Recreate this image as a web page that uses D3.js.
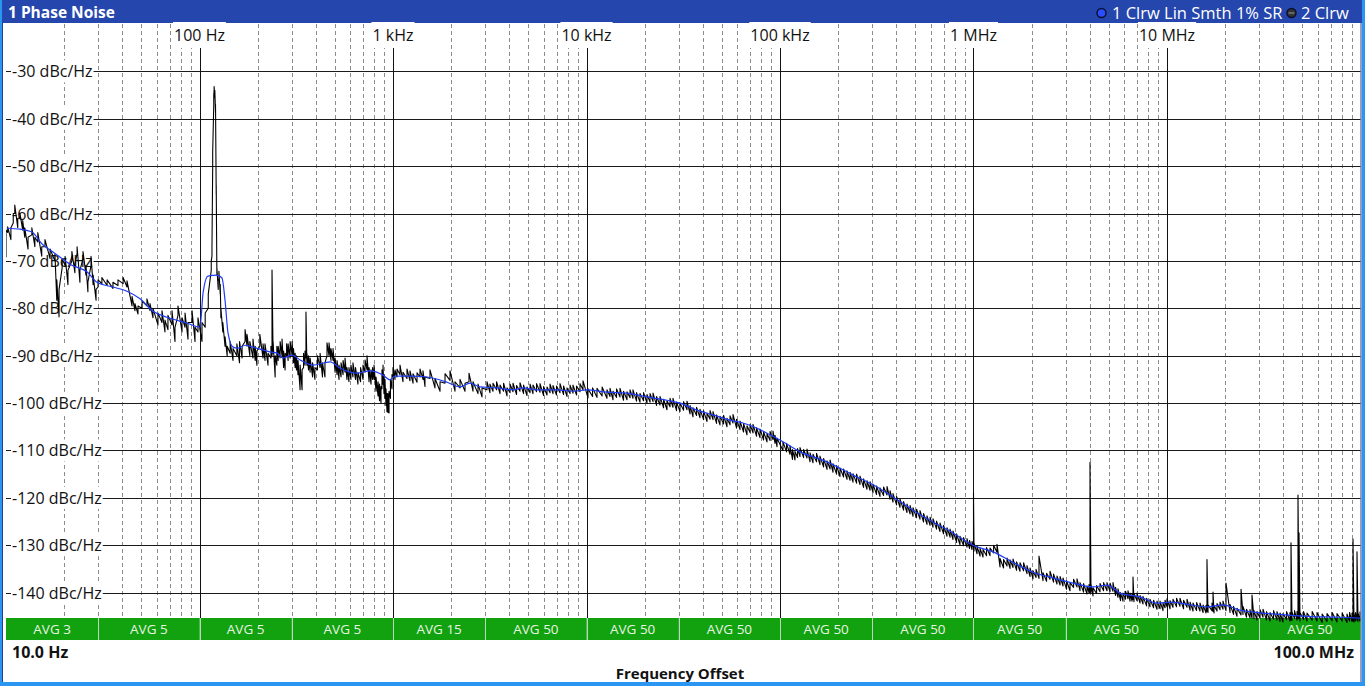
<!DOCTYPE html>
<html><head><meta charset="utf-8">
<script src="https://cdn.jsdelivr.net/npm/d3@7"></script>
<style>
html,body{margin:0;padding:0;background:#fff;}
svg{display:block;font-family:"Open Sans","Noto Sans",sans-serif;}
</style></head><body>
<svg id="chart" width="1365" height="686"></svg>
<script>
// Phase noise measurement: offset frequency (Hz) vs level (dBc/Hz)

const levelTicks = [-30, -40, -50, -60, -70, -80, -90, -100, -110, -120, -130, -140];
const levelTickLabels = ["-30 dBc/Hz", "-40 dBc/Hz", "-50 dBc/Hz", "-60 dBc/Hz", "-70 dBc/Hz", "-80 dBc/Hz",
  "-90 dBc/Hz", "-100 dBc/Hz", "-110 dBc/Hz", "-120 dBc/Hz", "-130 dBc/Hz", "-140 dBc/Hz"];
const decadeTicks = [100, 1e3, 1e4, 1e5, 1e6, 1e7];
const decadeTickLabels = ["100 Hz", "1 kHz", "10 kHz", "100 kHz", "1 MHz", "10 MHz"];
const spanStart = 10, spanStop = 1e8;
const spanStartLabel = "10.0 Hz", spanStopLabel = "100.0 MHz";
const levelTop = -20, levelBottom = -150;

// averaging per sub-range
const avgBounds = [10, 30, 100, 300, 1e3, 3e3, 1e4, 3e4, 1e5, 3e5, 1e6, 3e6, 1e7, 3e7, 1e8];
const avgLabels = ["AVG 3", "AVG 5", "AVG 5", "AVG 5", "AVG 15", "AVG 50", "AVG 50", "AVG 50",
  "AVG 50", "AVG 50", "AVG 50", "AVG 50", "AVG 50", "AVG 50"];

// Trace 1: Clrw, linear smoothing 1 %  [offset Hz, dBc/Hz]
const trace1 = [
  [10.1,-63.1],[11.8,-63.3],[13.6,-63.9],[15.5,-66.6],[17.5,-68.1],[21.9,-70.9],[26.2,-72.3],[29.5,-74.5],
  [35.7,-75.5],[42.2,-76.4],[49.3,-78.0],[57.5,-80.6],[67.9,-81.9],[86,-83.1],[100.6,-84.0],[104.3,-76.8],
  [110.6,-73.2],[123,-73.0],[130.7,-73.6],[135.5,-78.3],[140.4,-85.2],[149,-88.2],[158,-88.4],[172,-87.8],
  [189,-88.2],[213,-88.8],[231,-89.2],[251,-89.4],[270,-90.5],[301,-89.9],[331,-90.9],[386,-92.0],
  [473,-91.3],[532,-92.6],[652,-93.7],[761,-93.2],[888,-94.1],[965,-95.1],[1024,-94.3],[1224,-94.3],
  [1499,-94.5],[1901,-95.6],[2220,-96.6],[2500,-95.8],[2815,-96.6],[3447,-96.8],[4172,-97.2],[4697,-96.8],
  [5549,-97.2],[7040,-97.2],[8516,-97.5],[10060,-97.2],[12760,-97.7],[16190,-97.9],[20550,-98.7],[26060,-99.4],
  [30420,-100.0],[37250,-101.5],[45060,-102.5],[55150,-103.6],[64400,-104.2],[76050,-105.3],[88800,-106.7],
  [100000,-107.8],[126900,-110.3],[175000,-112.4],[238400,-115.2],[317200,-117.7],[383800,-119.8],
  [486900,-122.6],[617700,-125.1],[783700,-127.4],[994000,-130.0],[1261000,-131.4],[1600000,-133.6],
  [2030000,-135.7],[2576000,-136.9],[3268000,-138.0],[4146000,-138.8],[4897000,-138.4],[5258000,-139.0],
  [5716000,-140.1],[7252000,-140.9],[8878000,-142.2],[10740000,-142.0],[13150000,-142.6],[16090000,-143.0],
  [19470000,-142.6],[23840000,-143.7],[27820000,-144.1],[35300000,-144.5],[52900000,-145.0],[78400000,-145.2],
  [99400000,-145.4]
];

// Trace 2: Clrw, unsmoothed — per display bin [offset Hz, min dBc/Hz, max dBc/Hz]
const trace2 = [
  [10,-69.2,-63.5],[10.2,-64,-62.8],[10.6,-65.5,-63],[10.9,-62,-60],[11.1,-60,-58.2],[11.5,-63,-61],[11.8,-61,-59.9],
  [12.2,-63.5,-61.5],[12.5,-65,-63],[13.0,-67.5,-65],[13.6,-64.5,-63],[14.1,-67,-65],[14.6,-66,-64],[15.3,-69,-67],
  [15.9,-67,-65.5],[16.9,-69.5,-67.5],[17.9,-70,-68.5],[18.3,-78.3,-74],[18.8,-81.8,-76],[19.5,-71.5,-69.5],
  [20.2,-71,-69],[20.9,-75,-72],[21.9,-70,-68],[22.7,-72.5,-70.5],[23.3,-68.5,-67],[24.1,-74.5,-72],[25.0,-69.5,-68],
  [25.9,-73,-71],[26.5,-76.5,-74.5],[27.5,-71,-69],[28.2,-75,-73],[29.2,-78.3,-76],[29.9,-75.5,-74],[31.3,-74.8,-73.5],
  [33.3,-75.2,-74],[35.7,-75.8,-74.5],[37.9,-75.2,-74],[40.3,-74.8,-73.5],[42.2,-75.5,-74.2],[44.8,-79.5,-77.5],
  [46.4,-80.5,-79],[48.1,-81.2,-79.5],[50.5,-80,-78.5],[53.5,-79.5,-78],[55.5,-80.5,-79],[57.5,-82,-80],[61.0,-83.5,-81],
  [64.0,-83,-80.5],[66.3,-85,-82.5],[68.7,-84.5,-81.5],[72.1,-83.5,-80.5],[74.7,-87,-84],[77.4,-81.5,-79.5],
  [81.2,-85,-82],[84.2,-84,-81],[87.2,-86.5,-83],[91.5,-83,-80.5],[94.8,-87,-84],[98.2,-85,-82],
  [103,-87,-83],[107,-84,-81],[111,-80,-77],[115,-72,-70],[116,-69,-67],[117,-50,-47],[118.5,-37,-35],[119,-34,-33.2],
  [120,-35.5,-34],[121,-38.5,-37],[122,-56,-54],[123,-73,-71.5],[125,-76,-74],[126,-74,-72.2],[128,-77,-75],[129,-82,-80],
  [132,-85,-83],[135.5,-88,-86],[139,-90,-88],[144,-89.5,-87],[149,-91,-88.5],[156,-90,-87.5],[161,-91.5,-87],
  [166,-90.5,-88],[172,-87,-84.5],[176,-88,-85.5],[182,-90,-87],[189,-90.5,-86.5],[194,-91,-88],[198,-92,-89],
  [205,-88,-85.5],[213,-90.5,-87.5],[218,-91,-87.5],[226,-92,-89.5],[234,-90.5,-88],[237,-90,-71.9],[240,-89.5,-87],
  [246,-94.5,-90],[251,-92,-88],[255,-91,-88],[261,-90.5,-87],[267,-90,-86.5],[272,-92.5,-89],[277,-93,-89.5],
  [282,-90,-87.5],[287,-91,-87.5],[294,-90.5,-87],[301,-90,-87],[306,-91.5,-88.5],[312,-92.5,-89.5],[317,-93,-90],
  [323,-94,-91],[331,-97.2,-92],[339,-97.2,-93],[345,-92.5,-89.5],[351,-92,-89],[355,-90.5,-80.8],[359,-92,-89.5],
  [366,-93,-90],[373,-93.5,-90.5],[384,-94.5,-91.5],[395,-95,-92.5],[407,-93,-90],[420,-92.5,-89.5],[432,-94.5,-91.5],
  [445,-94.5,-91.5],[456,-90,-87.3],[467,-90,-87.3],[478,-91,-88.5],[490,-91,-88.5],[502,-93.5,-90.5],[514,-94,-91],
  [526,-95,-92],[539,-94.5,-91.5],[552,-94,-91],[565,-93.5,-90.5],[578,-95,-92.5],[592,-95.5,-92.5],[606,-95,-92],
  [621,-94.5,-91.5],[640,-95,-92.5],[659,-96,-93.5],[680,-95.5,-92.5],[700,-95,-92],[717,-93.5,-90.9],[734,-93,-90],
  [752,-95.5,-92.5],[770,-96,-93],[784,-95,-92.5],[798,-95,-92],[817,-97.5,-94.5],[837,-98.5,-95.5],[852,-99.5,-96],
  [867,-100,-96.5],[877,-97,-93],[888,-96,-92],[898,-98,-94],[909,-99,-95],[920,-100.5,-97],[931,-101.8,-98],
  [942,-102,-98],[954,-102.1,-97.5],[970,-99,-95],[988,-97,-94],
  [1000,-94.5,-92.5],[1024,-95,-93],[1049,-94.5,-92.8],[1087,-94,-92],[1126,-95.5,-93.5],[1181,-94.8,-92.8],
  [1224,-95.3,-93.2],[1269,-95.8,-93.8],[1331,-95.6,-93.6],[1379,-94.5,-92.8],[1429,-95,-93.2],[1463,-96.5,-94.5],
  [1553,-94.8,-93],[1648,-96.8,-94.8],[1750,-97.5,-95.5],[1857,-95.8,-93.8],[1971,-95.2,-93.2],[2091,-97.5,-95.5],
  [2220,-96.8,-95],[2356,-97.5,-95.8],[2470,-95.5,-93.7],[2591,-97.5,-95.5],[2750,-98,-96],[2884,-98.7,-96.8],
  [3060,-97.2,-95.5],[3170,-97.8,-96],[3287,-97.5,-95.8],[3430,-97.2,-95.5],[3573,-98,-96.2],[3728,-97.5,-95.8],
  [3883,-98.5,-96.8],[4027,-97.8,-96],[4171,-97.6,-95.8],[4350,-98.2,-96.3],[4532,-97.5,-95.7],[4729,-98,-96.2],
  [4926,-98.4,-96.6],[5108,-97.8,-96],[5290,-98,-96.2],[5520,-97.6,-95.9],[5751,-97.7,-95.9],[6000,-98.4,-96.5],
  [6250,-98.3,-96.6],[6481,-97.8,-96],[6712,-98,-96.3],[7000,-98.3,-96.4],[7295,-97.8,-95.9],[7612,-98.2,-96.4],
  [7930,-98.6,-96.8],[8223,-98,-96.2],[8516,-97.9,-96.2],[8886,-98.3,-96.4],[9256,-97.6,-95.9],[9592,-97.2,-95.3],
  [10180,-98.9,-97],[10750,-98.6,-96.8],[11330,-98.8,-96.9],[12040,-98.5,-96.6],[12760,-99,-97.2],[13230,-98.6,-96.9],
  [13710,-99.3,-97.5],[14300,-98.8,-97],[14900,-98.7,-96.9],[15540,-99.4,-97.5],[16190,-99.3,-97.6],[16790,-98.9,-97.2],
  [17390,-99,-97.2],[18140,-99.6,-97.8],[18900,-99.8,-98],[19720,-99.5,-97.8],[20540,-100,-98.2],[21300,-99.8,-98],
  [22070,-99.7,-97.9],[23020,-100.5,-98.6],[23980,-100.4,-98.6],[25020,-101,-99.2],[26060,-101.4,-99.5],
  [27020,-100.8,-99],[27990,-100.9,-99],[29200,-101.6,-99.8],[30420,-101.8,-100],[31740,-101.5,-99.7],
  [33060,-101.4,-99.6],[34290,-102.3,-100.5],[35520,-102.9,-101],[37060,-102.6,-100.9],[38600,-103.1,-101.3],
  [40270,-103.5,-101.6],[41950,-103.9,-102.1],[43500,-103.4,-101.6],[45060,-103.5,-101.8],[47010,-104.3,-102.5],
  [48970,-104.6,-102.8],[51100,-104.4,-102.6],[53220,-105,-103.2],[55190,-104.6,-102.7],[57160,-104.2,-102.4],
  [59640,-105.3,-103.4],[62130,-105.6,-103.8],[64820,-106.1,-104.3],[67520,-106.7,-104.8],[70020,-106.2,-104.5],
  [72520,-106.3,-104.5],[75670,-107,-105.2],[78830,-107.3,-105.5],[82240,-107.8,-106],[85660,-108.2,-106.4],
  [88830,-107.9,-106],[92000,-107.7,-105.9],[94250,-108.5,-106.8],[96500,-109.2,-107.4],
  [103600,-110,-108.2],[108100,-110.3,-108.5],[112600,-110.8,-109],[116050,-111.9,-109.8],[119500,-112,-110.2],
  [123200,-111.5,-109.6],[126900,-111.3,-109.4],[132400,-111.5,-109.8],[137900,-111.6,-109.7],[143000,-112.4,-110.5],
  [148100,-112.6,-110.8],[154500,-112.4,-110.6],[160900,-113,-111.2],[168000,-113.5,-111.7],[175000,-114,-112.2],
  [181450,-113.9,-112],[187900,-114.6,-112.8],[196050,-115,-113.2],[204200,-115.5,-113.7],[213100,-115.6,-113.9],
  [222000,-116.1,-114.3],[230200,-116.3,-114.6],[238400,-116.7,-114.9],[248750,-116.9,-115],[259100,-117.2,-115.4],
  [270350,-117.8,-116],[281600,-118.2,-116.4],[292000,-118.4,-116.6],[302400,-118.9,-117.1],[315550,-119.3,-117.5],
  [328700,-119.7,-117.9],[343000,-119.5,-117.7],[357300,-119.4,-117.6],[370500,-120.3,-118.5],[383700,-120.9,-119.1],
  [400400,-121.5,-119.7],[417100,-122,-120.2],[435150,-122.6,-120.8],[453200,-123.1,-121.3],[470000,-123.4,-121.6],
  [486800,-123.9,-122.1],[507900,-124.2,-122.4],[529000,-124.5,-122.7],[552050,-125.1,-123.3],[575100,-125.6,-123.8],
  [596350,-125.8,-124.1],[617600,-126.2,-124.4],[644400,-126.6,-124.9],[671200,-127.1,-125.3],[700350,-127.6,-125.8],
  [729500,-128.1,-126.3],[756550,-128.3,-126.6],[783600,-128.8,-127],[817600,-129.4,-127.6],[851600,-129.9,-128.1],
  [888600,-130.1,-128.4],[925600,-130.4,-128.6],[954000,-130.7,-129],[982400,-130.9,-129.2],[1000000,-130.5,-119],
  [1006000,-131.2,-129.5],
  [1043000,-131.8,-130.2],[1081000,-132.3,-130.6],[1120000,-132.5,-130.9],[1168000,-132.2,-130.5],[1217000,-132.2,-130.6],
  [1270000,-131.6,-130],[1323000,-131.5,-129.8],[1371000,-134.6,-132.8],[1430000,-134.8,-133],[1490000,-134.4,-132.7],
  [1545000,-134.9,-133.1],[1600000,-134.7,-132.9],[1670000,-135.3,-133.5],[1739000,-135.5,-133.7],[1815000,-135.4,-133.7],
  [1890000,-136,-134.3],[1960000,-136.6,-134.8],[2030000,-137.1,-135.4],[2105000,-136.8,-135.1],[2180000,-137,-132.3],
  [2287000,-137.5,-135.8],[2386000,-137.6,-135.9],[2485000,-137.2,-135.5],[2593000,-137.8,-136.1],[2701000,-138.2,-136.5],
  [2801000,-138.4,-136.6],[2901000,-138.6,-136.9],[3027000,-139.3,-137.5],[3153000,-139.6,-137.9],[3290000,-138.9,-137.2],
  [3427000,-138.8,-137.1],[3552000,-139.6,-137.9],[3706000,-139.9,-138.1],[3860000,-140.3,-138.6],[3953000,-140,-138.3],
  [4000000,-140,-112.5],[4048000,-139.9,-138.2],[4146000,-140.7,-139],[4326000,-140.2,-138.5],[4506000,-139.8,-138.1],
  [4702000,-139.6,-137.9],[4897000,-139.6,-137.9],[5078000,-139.8,-138],[5259000,-139.7,-137.9],[5420000,-140.6,-138.9],
  [5582000,-141,-139.2],[5752000,-141.7,-140],[5923000,-141.8,-140.1],[6105000,-141.4,-139.7],[6286000,-141.3,-139.6],
  [6440000,-141.8,-140.1],[6594000,-141.8,-140.2],[6673000,-141.5,-136.7],[6752000,-141.9,-140.2],[6998000,-141.7,-140.1],
  [7257000,-142.2,-140.6],[7516000,-142.4,-140.8],[7842000,-142.8,-141.2],[8168000,-143,-141.4],[8524000,-143.2,-141.6],
  [8879000,-143.5,-141.8],[9207000,-143.4,-141.8],[9535000,-143.8,-142.2],[9768000,-143.2,-141.6],
  [10000000,-143,-141.3],[10370000,-143.4,-141.7],[10740000,-143.1,-141.4],[11200000,-143,-141.2],[11670000,-142.9,-141.2],
  [12180000,-143.4,-141.6],[12690000,-143.1,-141.4],[13160000,-143.7,-142],[13630000,-143.9,-142.2],[14220000,-143.8,-142.1],
  [14810000,-143.9,-142.2],[15360000,-144.2,-142.6],[15910000,-144.3,-142.7],[16090000,-144,-133],[16290000,-144.2,-142.6],
  [17080000,-143.8,-142.2],[17290000,-144,-139.9],[17500000,-144.3,-142.7],[18130000,-143.9,-142.3],[18800000,-143.6,-142],
  [19470000,-143.5,-141.8],[20180000,-143.8,-138],[21170000,-144.2,-142.5],[22080000,-144.6,-142.9],[23000000,-145,-143.3],
  [24130000,-144.7,-139.3],[24700000,-144.6,-142.9],[25770000,-145.2,-143.5],[26850000,-145.3,-143.6],[27500000,-145.4,-140.5],
  [28160000,-145.5,-143.8],[29180000,-145.8,-144],[30260000,-145.4,-143.6],[31340000,-145.2,-143.5],[32700000,-145.8,-144],
  [34070000,-146,-144.2],[35540000,-145.6,-143.8],[37020000,-145.8,-144],[38390000,-146.1,-144.3],[39760000,-146.2,-144.4],
  [41490000,-145.7,-144],[43220000,-146,-144.2],[43740000,-145.8,-129.5],[44260000,-145.9,-144.1],[45610000,-145.5,-143.8],
  [46970000,-145.8,-144],[47530000,-145.5,-119.4],[48110000,-145.5,-127.4],[48680000,-146,-144.2],[50790000,-145.7,-144],
  [52900000,-146,-144.3],[56250000,-145.8,-144],[59590000,-146,-144.2],[63350000,-146.3,-144.5],[67120000,-146.1,-144.4],
  [71360000,-145.9,-144.2],[75600000,-146.2,-144.4],[80380000,-146,-144.3],[85160000,-146.3,-144.5],[87770000,-146,-144.2],
  [90380000,-146.1,-144.3],[91470000,-146,-128.7],[92560000,-146.2,-144.4],[94240000,-146,-144.2],[95920000,-145.8,-131.4],
  [97070000,-146.1,-144.3],[99400000,-146,-144]
];

const W = 1365, H = 686;
const plot = {left: 6, right: 1360.5, top: 24, bottom: 640};
const avgBarTop = 618;

const svg = d3.select("#chart");
const x = d3.scaleLog().domain([spanStart, spanStop]).range([plot.left, plot.right]);
const y = d3.scaleLinear().domain([levelTop, levelBottom]).range([plot.top, plot.bottom]);

// window frame
svg.append("rect").attr("width", W).attr("height", H).attr("fill", "#2b95f2");
svg.append("rect").attr("x", 2).attr("y", 0).attr("width", 1360).attr("height", 682).attr("fill", "#fff");
svg.append("rect").attr("x", 2).attr("y", 0).attr("width", 1360).attr("height", 23).attr("fill", "#2546ad");
svg.append("line").attr("x1", 2.5).attr("x2", 2.5).attr("y1", 23).attr("y2", 682).attr("stroke", "#243d8f");
svg.append("line").attr("x1", 1361).attr("x2", 1361).attr("y1", 23).attr("y2", 682).attr("stroke", "#243d8f");

// title and legend
svg.append("text").attr("x", 8).attr("y", 18).attr("fill", "#fff")
  .attr("font-weight", "bold").attr("font-size", 15.5).text("1 Phase Noise");
const legend = svg.append("g").attr("font-size", 16.5).attr("fill", "#fff");
legend.append("circle").attr("cx", 1101.5).attr("cy", 13).attr("r", 4.5)
  .attr("fill", "#2a4dff").attr("stroke", "#0b1030").attr("stroke-width", 1.5);
legend.append("text").attr("x", 1112).attr("y", 19).text("1 Clrw Lin Smth 1% SR");
legend.append("circle").attr("cx", 1291.5).attr("cy", 13).attr("r", 4.5)
  .attr("fill", "#333").attr("stroke", "#0b1030").attr("stroke-width", 1.5);
legend.append("line").attr("x1", 1288.5).attr("x2", 1294.5).attr("y1", 13).attr("y2", 13)
  .attr("stroke", "#999").attr("stroke-width", 1);
legend.append("text").attr("x", 1301).attr("y", 19).text("2 Clrw");

const grid = svg.append("g");
// minor log grid (dashed)
const minorTicks = [];
for (let d = spanStart; d < spanStop; d *= 10) {
  for (let m = 2; m <= 9; m++) minorTicks.push(d * m);
}
grid.selectAll("line.minor").data(minorTicks).join("line")
  .attr("class", "minor")
  .attr("x1", d => Math.round(x(d)) + 0.5).attr("x2", d => Math.round(x(d)) + 0.5)
  .attr("y1", plot.top).attr("y2", avgBarTop)
  .attr("stroke", "#8c8c8c").attr("stroke-width", 1).attr("stroke-dasharray", "4,3");

// level grid
grid.selectAll("line.level").data(levelTicks).join("line")
  .attr("class", "level")
  .attr("x1", plot.left).attr("x2", plot.right)
  .attr("y1", d => Math.round(y(d)) + 0.5).attr("y2", d => Math.round(y(d)) + 0.5)
  .attr("stroke", "#1a1a1a").attr("stroke-width", 1);

// decade grid
grid.selectAll("line.decade").data(decadeTicks).join("line")
  .attr("class", "decade")
  .attr("x1", d => Math.round(x(d)) + 0.5).attr("x2", d => Math.round(x(d)) + 0.5)
  .attr("y1", 46).attr("y2", avgBarTop)
  .attr("stroke", "#111").attr("stroke-width", 1);

// label helper with opaque backing
function boxedLabel(g, props, pad) {
  const t = g.append("text");
  Object.entries(props.attrs).forEach(([k, v]) => t.attr(k, v));
  t.text(props.text);
  const b = t.node().getBBox();
  g.insert("rect", () => t.node())
    .attr("x", b.x - pad[0]).attr("y", b.y - pad[1])
    .attr("width", b.width + 2 * pad[0]).attr("height", b.height + 2 * pad[1])
    .attr("fill", "#fff");
  return t;
}

const yLabels = svg.append("g").attr("font-size", 16).attr("fill", "#111");
levelTicks.forEach((v, i) => {
  boxedLabel(yLabels, {text: levelTickLabels[i],
    attrs: {x: 12, y: y(v), "dominant-baseline": "central"}}, [1, 0]);
});

const xLabels = svg.append("g").attr("font-size", 16).attr("fill", "#111");
decadeTicks.forEach((v, i) => {
  boxedLabel(xLabels, {text: decadeTickLabels[i],
    attrs: {x: x(v), y: 35, "text-anchor": "middle", "dominant-baseline": "central"}}, [1, 2]);
});

// averaging status bar
const bar = svg.append("g");
const segs = avgLabels.map((lab, i) => ({lab, a: avgBounds[i], b: avgBounds[i + 1]}));
bar.selectAll("rect").data(segs).join("rect")
  .attr("x", d => x(d.a)).attr("width", d => x(d.b) - x(d.a))
  .attr("y", avgBarTop).attr("height", plot.bottom - avgBarTop)
  .attr("fill", "#12a10f");
bar.selectAll("line").data(avgBounds.slice(1, -1)).join("line")
  .attr("x1", d => Math.round(x(d)) + 0.5).attr("x2", d => Math.round(x(d)) + 0.5)
  .attr("y1", avgBarTop).attr("y2", plot.bottom)
  .attr("stroke", "#bcd8bc").attr("stroke-width", 1);
bar.selectAll("text").data(segs).join("text")
  .attr("x", d => (x(d.a) + x(d.b)) / 2).attr("y", (avgBarTop + plot.bottom) / 2)
  .attr("text-anchor", "middle").attr("dominant-baseline", "central")
  .attr("font-size", 13.5).attr("fill", "#e6f5e3").text(d => d.lab);

// traces
svg.append("clipPath").attr("id", "plotClip").append("rect")
  .attr("x", plot.left).attr("y", plot.top)
  .attr("width", plot.right - plot.left).attr("height", plot.bottom - plot.top);
const traces = svg.append("g").attr("clip-path", "url(#plotClip)");

// each bin of trace 2 is drawn as a vertical min-to-max stroke joined to the next bin
const trace2Path = [];
trace2.forEach(([f, lo, hi]) => { trace2Path.push([f, lo], [f, hi]); });
const line = d3.line().x(d => x(d[0])).y(d => y(d[1]));
traces.append("path").datum(trace2Path).attr("d", line)
  .attr("fill", "none").attr("stroke", "#000").attr("stroke-width", 1.1).attr("stroke-linejoin", "round");
traces.append("path").datum(trace1).attr("d", line.curve(d3.curveMonotoneX))
  .attr("fill", "none").attr("stroke", "#1f3cf5").attr("stroke-width", 1.2);

// span labels and axis title
svg.append("text").attr("x", 12).attr("y", 658).attr("font-size", 16).attr("font-weight", "bold")
  .attr("fill", "#111").text(spanStartLabel);
svg.append("text").attr("x", 1354).attr("y", 658).attr("font-size", 16).attr("font-weight", "bold")
  .attr("text-anchor", "end").attr("fill", "#111").text(spanStopLabel);
svg.append("text").attr("x", 680).attr("y", 679).attr("font-size", 15).attr("font-weight", "bold")
  .attr("text-anchor", "middle").attr("fill", "#111").text("Frequency Offset");
</script>
</body></html>
